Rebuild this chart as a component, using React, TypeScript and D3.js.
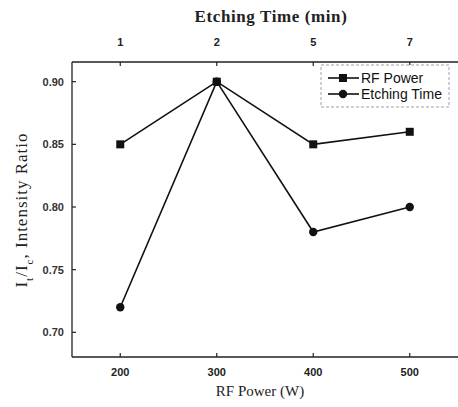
import React from "react";
import * as d3 from "d3";

const rfPower = [200, 300, 400, 500];
const etchingTimeLabels = ["1", "2", "5", "7"];
const rfSeries = [0.85, 0.9, 0.85, 0.86];
const etchSeries = [0.72, 0.9, 0.78, 0.8];
const yTicks = [0.7, 0.75, 0.8, 0.85, 0.9];

const W = 458;
const H = 407;
const left = 72;
const right = 458;
const top = 62;
const bottom = 357;

export default function App() {
  const x = d3.scaleLinear().domain([150, 550]).range([left, right]);
  const y = d3.scaleLinear().domain([0.6803, 0.9157]).range([bottom, top]);
  const line = d3
    .line<number>()
    .x((_, i) => x(rfPower[i]))
    .y((d) => y(d));
  const tickFont = "'Liberation Sans', Arial, sans-serif";
  const serif = "'Liberation Serif', 'DejaVu Serif', serif";
  return (
    <svg
      width={W}
      height={H}
      style={{ position: "absolute", left: 0, top: 0, background: "#fff" }}
    >
      <rect x={0} y={0} width={W} height={H} fill="#fff" />
      {/* frame */}
      <line x1={left} x2={right} y1={top} y2={top} stroke="#222" strokeWidth={1.3} />
      <line x1={left} x2={right} y1={bottom} y2={bottom} stroke="#222" strokeWidth={1.3} />
      <line x1={left} x2={left} y1={top} y2={bottom} stroke="#222" strokeWidth={1.3} />
      {/* x ticks bottom & top */}
      {rfPower.map((v, i) => (
        <g key={"xt" + v}>
          <line x1={x(v)} x2={x(v)} y1={bottom} y2={bottom - 4} stroke="#222" strokeWidth={1.2} />
          <line x1={x(v)} x2={x(v)} y1={top} y2={top + 4} stroke="#222" strokeWidth={1.2} />
          <text
            x={x(v)}
            y={bottom + 19}
            textAnchor="middle"
            fontFamily={tickFont}
            fontWeight="bold"
            fontSize={11}
            fill="#222"
          >
            {v}
          </text>
          <text
            x={x(v)}
            y={top - 16}
            textAnchor="middle"
            fontFamily={tickFont}
            fontWeight="bold"
            fontSize={11}
            fill="#222"
          >
            {etchingTimeLabels[i]}
          </text>
        </g>
      ))}
      {/* y ticks */}
      {yTicks.map((v) => (
        <g key={"yt" + v}>
          <line x1={left} x2={left + 4} y1={y(v)} y2={y(v)} stroke="#222" strokeWidth={1.2} />
          <text
            x={left - 8}
            y={y(v) + 4}
            textAnchor="end"
            fontFamily={tickFont}
            fontWeight="bold"
            fontSize={11}
            fill="#333"
          >
            {v.toFixed(2)}
          </text>
        </g>
      ))}
      {/* titles */}
      <text
        x={271}
        y={22}
        textAnchor="middle"
        fontFamily={serif}
        fontWeight="bold"
        fontSize={17}
        letterSpacing={0.6}
        fill="#222"
      >
        Etching Time (min)
      </text>
      <text
        x={260}
        y={396}
        textAnchor="middle"
        fontFamily={serif}
        fontSize={15}
        fill="#222"
      >
        RF Power (W)
      </text>
      <text
        transform={`translate(27,210) rotate(-90)`}
        textAnchor="middle"
        fontFamily={serif}
        fontSize={17}
        letterSpacing={1}
        fill="#222"
      >
        I
        <tspan baselineShift="sub" fontSize={11}>t</tspan>
        /I
        <tspan baselineShift="sub" fontSize={11}>c</tspan>
        , Intensity Ratio
      </text>
      {/* series */}
      <path d={line(rfSeries) || ""} fill="none" stroke="#111" strokeWidth={1.6} />
      <path d={line(etchSeries) || ""} fill="none" stroke="#111" strokeWidth={1.6} />
      {rfSeries.map((v, i) => (
        <rect
          key={"rs" + i}
          x={x(rfPower[i]) - 4}
          y={y(v) - 4}
          width={8}
          height={8}
          fill="#111"
        />
      ))}
      {etchSeries.map((v, i) => (
        <circle key={"ec" + i} cx={x(rfPower[i])} cy={y(v)} r={4.2} fill="#111" />
      ))}
      {/* legend */}
      <rect
        x={321}
        y={65}
        width={128}
        height={42}
        fill="#fff"
        stroke="#888"
        strokeWidth={0.8}
        strokeDasharray="3,2"
      />
      <line x1={328} x2={359} y1={78} y2={78} stroke="#111" strokeWidth={1.6} />
      <rect x={339} y={74} width={8} height={8} fill="#111" />
      <text x={361} y={83} fontFamily={tickFont} fontSize={14} fill="#111">
        RF Power
      </text>
      <line x1={328} x2={359} y1={94} y2={94} stroke="#111" strokeWidth={1.6} />
      <circle cx={343} cy={94} r={4.2} fill="#111" />
      <text x={361} y={99} fontFamily={tickFont} fontSize={14} fill="#111">
        Etching Time
      </text>
    </svg>
  );
}
